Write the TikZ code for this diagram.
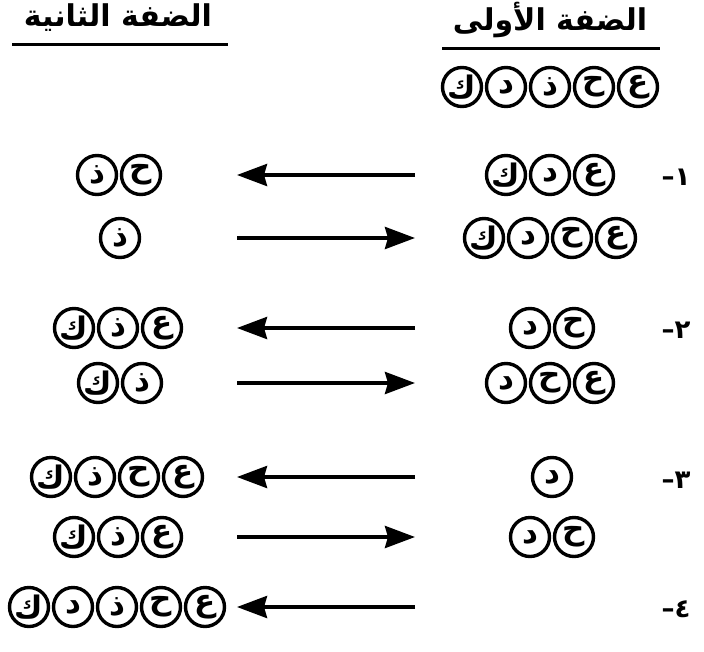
\documentclass[tikz,border=0pt]{standalone}
\usepackage{fontspec}
\newfontfamily\arabicfont[Script=Arabic]{DejaVu Sans}
\TeXXeTstate=1
\usetikzlibrary{arrows.meta}
\tikzset{
  lc/.style={circle,draw,line width=3.4pt,minimum size=39pt,inner sep=0pt,
    font=\arabicfont\bfseries\fontsize{31}{31}\selectfont},
  hdr/.style={font=\arabicfont\bfseries\fontsize{30}{30}\selectfont,inner sep=0pt},
  num/.style={font=\arabicfont\bfseries\fontsize{26}{26}\selectfont,inner sep=0pt},
  uline/.style={line width=3pt},
  arr/.style={line width=3.8pt,-{Stealth[length=30pt,width=22pt,inset=3pt]}}
}
\newcommand\crow[5]{%
  \foreach \l [count=\i] in {#5} {%
    \node[lc] (#1-\i) at ({#2+(#4-1)*22-(\i-1)*44},#3) {\l};
  }%
}
\begin{document}
\begin{tikzpicture}[x=1pt,y=-1pt]
\useasboundingbox (0,0) rectangle (704,651);
% headers
\node[hdr] (h1) at (550,20) {\beginR الضفة الأولى\endR};
\node[hdr] (h2) at (118,18) {\beginR الضفة الثانية\endR};
\coordinate (u1a) at (442,48); \coordinate (u1b) at (660,48);
\coordinate (u2a) at (12,44); \coordinate (u2b) at (228,44);
\draw[uline] (u1a) -- (u1b);
\draw[uline] (u2a) -- (u2b);
% right bank
\crow{r0}{550}{87}{5}{ع,ح,ذ,د,ك}
\crow{r1a}{550}{175}{3}{ع,د,ك}
\crow{r1b}{550}{238}{4}{ع,ح,د,ك}
\crow{r2a}{552}{328}{2}{ح,د}
\crow{r2b}{550}{383}{3}{ع,ح,د}
\crow{r3a}{552}{477}{1}{د}
\crow{r3b}{552}{537}{2}{ح,د}
% left bank
\crow{l1a}{119}{175}{2}{ح,ذ}
\crow{l1b}{120}{238}{1}{ذ}
\crow{l2a}{118}{328}{3}{ع,ذ,ك}
\crow{l2b}{120}{383}{2}{ذ,ك}
\crow{l3a}{117}{477}{4}{ع,ح,ذ,ك}
\crow{l3b}{118}{537}{3}{ع,ذ,ك}
\crow{l4}{117}{607}{5}{ع,ح,ذ,د,ك}
% numbers
\node[num] (n1) at (676,177) {١–};
\node[num] (n2) at (676,330) {٢–};
\node[num] (n3) at (676,480) {٣–};
\node[num] (n4) at (676,609) {٤–};
% arrows
\foreach \n/\y in {1a/175,2a/328,3a/477,4/607}{
  \coordinate (as\n) at (415,\y); \coordinate (ae\n) at (237,\y);
  \draw[arr] (as\n) -- (ae\n);
}
\foreach \n/\y in {1b/238,2b/383,3b/537}{
  \coordinate (as\n) at (237,\y); \coordinate (ae\n) at (415,\y);
  \draw[arr] (as\n) -- (ae\n);
}
\end{tikzpicture}
\end{document}
